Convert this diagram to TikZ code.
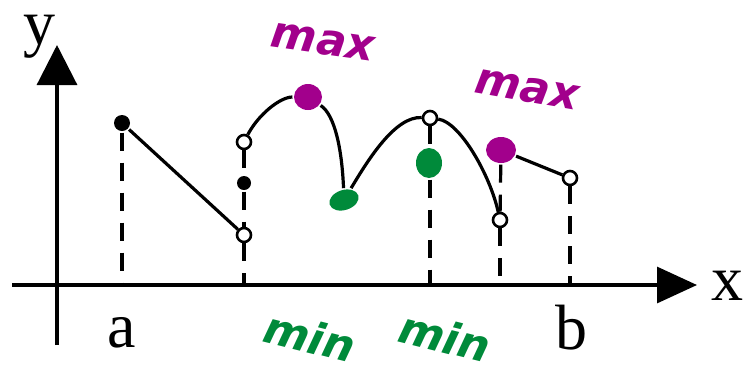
\documentclass[tikz,border=0pt]{standalone}
\usepackage{fontspec}
\setmainfont{Liberation Serif}
\newfontfamily\handfont{DejaVu Sans}
\usetikzlibrary{arrows.meta, shapes.geometric}
\definecolor{maxcol}{RGB}{162,0,140}
\definecolor{mincol}{RGB}{0,138,58}

\begin{document}
\begin{tikzpicture}[x=0.5pt, y=-0.5pt, line width=1.6pt,
    dot/.style={circle, fill=black, inner sep=0pt, minimum size=8pt},
    hole/.style={circle, draw, fill=white, line width=1.3pt, inner sep=0pt, minimum size=7pt},
    maxblob/.style={ellipse, fill=maxcol, inner sep=0pt, minimum width=14pt, minimum height=13pt},
    minblob/.style={ellipse, fill=mincol, inner sep=0pt, minimum width=15pt, minimum height=10pt},
    guide/.style={dash pattern=on 9pt off 6pt},
    lbl/.style={font=\fontsize{32}{32}\selectfont, inner sep=0pt, anchor=base},
    hand/.style={font=\handfont\bfseries\itshape\fontsize{22}{22}\selectfont, inner sep=0pt}]
    \useasboundingbox (0,0) rectangle (743,371);

    % axes
    \coordinate (xs) at (12,285);
    \coordinate (xe) at (697,285);
    \coordinate (ys) at (57,345);
    \coordinate (ye) at (57,45);
    \draw[-{Triangle[length=20pt,width=18pt]}] (xs) -- (xe);
    \draw[-{Triangle[length=20pt,width=20pt]}] (ys) -- (ye);
    \node[lbl] (lx) at (727,300) {x};
    \node[lbl] (ly) at (40,44) {y};
    \node[lbl] (la) at (122,347) {a};
    \node[lbl] (lb) at (571,349) {b};

    % points of the graph
    \node[dot] (pA) at (122,123) {};
    \node[hole] (pB) at (244,235) {};
    \node[dot, minimum size=7pt] (pC) at (244,183) {};
    \node[hole] (pD) at (244,142) {};
    \node[hole] (pE) at (430,118) {};
    \node[hole] (pF) at (500,220) {};
    \node[hole] (pG) at (570,178) {};
    \node[maxblob] (mx1) at (308,97) {};
    \node[maxblob, minimum width=15pt] (mx2) at (501,150) {};
    \node[minblob, rotate=18] (mn1) at (344,200) {};
    \node[minblob, minimum width=13pt, minimum height=15pt] (mn2) at (429,163) {};

    % feet on the x axis
    \foreach \n/\px in {A/122, B/244, E/430, F/500, G/570}
        \coordinate (f\n) at (\px,285);

    % dashed guides
    \draw[guide] (pA) -- (fA);
    \draw[guide] (pD) -- (pC);
    \draw[guide] (pC) -- (pB);
    \draw[guide] (pB) -- (fB);
    \draw[guide] (pE) -- (pE |- mn2.north);
    \draw[guide] (pE |- mn2.south) -- (fE);
    \draw[guide] (mx2) -- (pF);
    \draw[guide] (pF) -- (fF);
    \draw[guide] (pG) -- (fG);

    % the graph
    \draw (pA) -- (pB);
    \draw (pD) .. controls (258,115) and (280,97) .. (mx1);
    \draw (mx1) .. controls (335,115) and (342,150) .. (mn1);
    \draw (mn1) .. controls (368,160) and (395,116) .. (pE);
    \draw (pE) .. controls (460,122) and (490,175) .. (pF);
    \draw (mx2) -- (pG);

    % extrema
    \node[hand, text=maxcol, rotate=-8] (tmx1) at (323,42) {max};
    \node[hand, text=maxcol, rotate=-10] (tmx2) at (527,90) {max};
    \node[hand, text=mincol, rotate=-14] (tmn1) at (310,336) {min};
    \node[hand, text=mincol, rotate=-14] (tmn2) at (445,336) {min};
\end{tikzpicture}
\end{document}
